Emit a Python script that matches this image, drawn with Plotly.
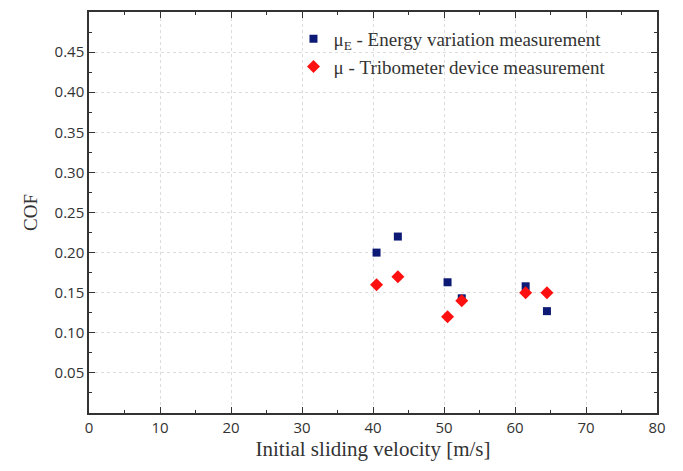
import plotly.graph_objects as go

velocity = [40.5, 43.5, 50.5, 52.5, 61.5, 64.5]
mu_energy = [0.200, 0.220, 0.163, 0.143, 0.158, 0.127]
mu_tribometer = [0.160, 0.170, 0.120, 0.140, 0.150, 0.150]

y_ticks = [0.05, 0.10, 0.15, 0.20, 0.25, 0.30, 0.35, 0.40, 0.45]
y_labels = ["%.2f" % v for v in y_ticks]
x_ticks = [0, 10, 20, 30, 40, 50, 60, 70, 80]

fig = go.Figure()
fig.add_trace(go.Scatter(
    x=velocity, y=mu_energy, mode="markers",
    name="μ<sub>E</sub> - Energy variation measurement",
    legendgroup="a",
    marker=dict(symbol="square", size=8, color="#0d1a75"),
))
fig.add_trace(go.Scatter(
    x=velocity, y=mu_tribometer, mode="markers",
    name="μ - Tribometer device measurement",
    legendgroup="b",
    marker=dict(symbol="diamond", size=10, color="#ff1010"),
))

axis_common = dict(
    showline=True, linecolor="#333", linewidth=1.5, mirror="ticks",
    ticks="inside", ticklen=6, tickcolor="#333", tickwidth=1.2,
    showgrid=True, gridcolor="#dcdcdc", griddash="dot", gridwidth=1,
    zeroline=False,
    tickfont=dict(family="Open Sans, sans-serif", size=15, color="#333"),
)

fig.update_layout(
    width=683, height=471,
    margin=dict(l=89, r=26, t=10, b=58),
    paper_bgcolor="white", plot_bgcolor="white",
    showlegend=True,
    legend=dict(
        x=0.36, y=0.98, xanchor="left", yanchor="top",
        bgcolor="rgba(0,0,0,0)",
        font=dict(family="Liberation Serif, serif", size=19, color="#333"),
        traceorder="grouped", tracegroupgap=0,
    ),
    xaxis=dict(
        range=[0, 80], tickvals=x_ticks,
        title=dict(text="Initial sliding velocity [m/s]", standoff=6,
                   font=dict(family="Liberation Serif, serif", size=21, color="#333")),
        minor=dict(ticks="inside", ticklen=3, tickcolor="#333", dtick=5, showgrid=False),
        **axis_common,
    ),
    yaxis=dict(
        range=[0, 0.5], tickvals=y_ticks, ticktext=y_labels,
        title=dict(text="COF", standoff=12,
                   font=dict(family="Liberation Serif, serif", size=19, color="#333")),
        minor=dict(ticks="inside", ticklen=3, tickcolor="#333", dtick=0.025, showgrid=False),
        **axis_common,
    ),
)

fig.write_html("out.html", config={"displayModeBar": False},
               post_script="document.body.style.margin='0';")
